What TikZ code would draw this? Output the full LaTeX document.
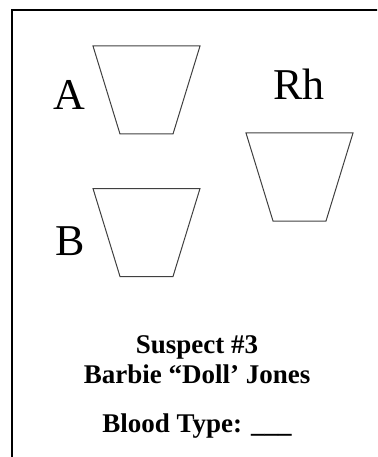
\documentclass[tikz,border=0pt]{standalone}
\usepackage{fontspec}
\setmainfont{Liberation Serif}

\tikzset{
  vaso/.pic={\draw[draw=black!75, line width=1pt]
               (-53.5,-44) -- (53.5,-44) -- (26.5,44) -- (-26.5,44) -- cycle;},
  letra/.style={anchor=base, font=\fontsize{44}{44}\selectfont},
  ficha/.style={anchor=base, font=\bfseries\fontsize{27}{30}\selectfont}
}

\begin{document}
\begin{tikzpicture}[x=1pt,y=-1pt]
\useasboundingbox (0,0) rectangle (377,457);
\clip (0,0) rectangle (377,457);

% Marco de la tarjeta
\draw[line width=2pt] (12,470) -- (12,10) -- (390,10);

% Vaso A
\pic (vasoA) at (146.5,90) {vaso};
\node[letra] (letraA) at (69,110) {A};

% Vaso B
\pic (vasoB) at (146.5,232.5) {vaso};
\node[letra] (letraB) at (70,255) {B};

% Vaso Rh
\pic (vasoRh) at (299.5,177) {vaso};
\node[letra] (letraRh) at (299,100) {Rh};

% Datos del sospechoso
\node[ficha] (sospechoso) at (197,353) {Suspect \#3};
\node[ficha] (nombre) at (197,383) {Barbie “Doll’ Jones};
\node[ficha] (tipo) at (197,432) {Blood Type: \_\_\_};

\end{tikzpicture}
\end{document}
